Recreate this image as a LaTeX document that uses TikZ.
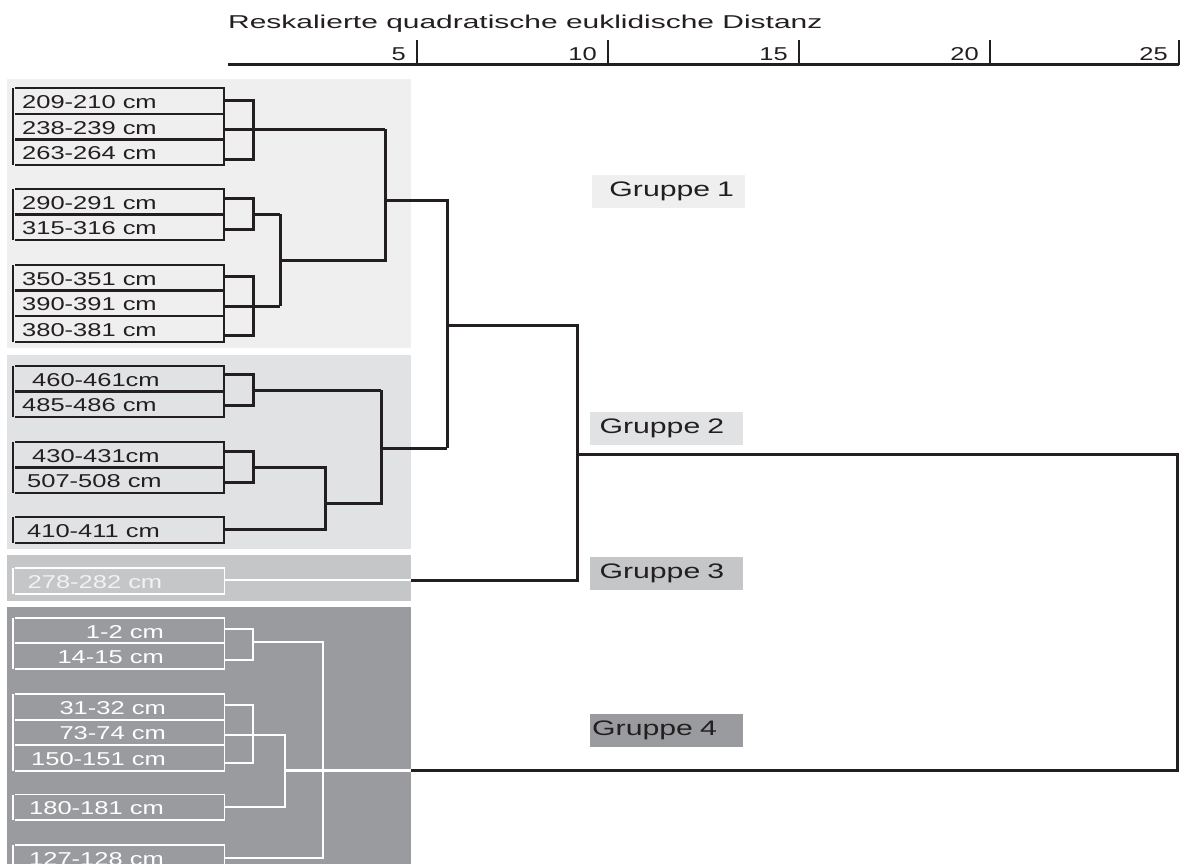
\documentclass[tikz,border=0pt]{standalone}
\usepackage{fontspec}
\setmainfont{Liberation Sans}
\newfontfamily\rowfont[FakeStretch=1.37]{Liberation Sans}
\newfontfamily\titlefont[FakeStretch=1.61]{Liberation Sans}
\newfontfamily\grpfont[FakeStretch=1.44]{Liberation Sans}
\definecolor{ink}{HTML}{231F20}
\definecolor{gA}{HTML}{EFEFEF}
\definecolor{gB}{HTML}{E1E2E4}
\definecolor{gC}{HTML}{C5C6C8}
\definecolor{gD}{HTML}{9A9B9E}
\definecolor{pale}{HTML}{F2F2F2}
\tikzset{
  rowbox/.style={rectangle, inner sep=0pt, minimum width=209pt, minimum height=25.4pt},
  dbox/.style={draw=ink, line width=2.1pt},
  wbox/.style={draw=white, line width=1.8pt},
  dbar/.style={draw=ink, line width=2.4pt},
  wbar/.style={draw=white, line width=2.1pt},
  link/.style={draw=ink, line width=3pt},
  wlink/.style={draw=white, line width=2.1pt},
  dtxt/.style={inner sep=0pt, text=ink, font=\rowfont\fontsize{18.6}{20}\selectfont},
  ptxt/.style={inner sep=0pt, text=pale, font=\rowfont\fontsize{18.6}{20}\selectfont},
  wtxt/.style={inner sep=0pt, text=white, font=\rowfont\fontsize{18.6}{20}\selectfont},
  grp/.style={rectangle, inner sep=0pt, text=ink, align=left, text width=#1, minimum height=32.7pt, font=\grpfont\fontsize{21}{24}\selectfont},
  tick/.style={draw=ink, line width=2.8pt},
  num/.style={inner sep=0pt, text=ink, anchor=base east, font=\rowfont\fontsize{18.6}{20}\selectfont}
}
% #1 name, #2 top y, #3 text x, #4 text, #5 box style, #6 text style
\newcommand\rowitem[6]{%
  \node[rowbox, anchor=north west] (#1) at (15,#2) {};
  \draw[#5] (#1.north west) -- (#1.north east) -- (#1.south east) -- (#1.south west);
  \node[#6] (#1t) at (#3,{#2+20.4}) {#4};
}
\begin{document}
\begin{tikzpicture}[x=1pt, y=-1pt]
\clip (0,0) rectangle (1184,863);
\fill[white] (0,0) rectangle (1184,863);

% ---------- axis ----------
\node[inner sep=0pt, anchor=base west, text=ink, font=\titlefont\fontsize{18.6}{20}\selectfont] (title) at (228,28.3) {Reskalierte quadratische euklidische Distanz};
\coordinate (ax0) at (228,64.5);
\coordinate (ax25) at (1179,64.5);
\draw[tick] (ax0) -- (ax25);
\foreach \v/\xx in {5/417, 10/608, 15/799, 20/990, 25/1179}{
  \coordinate (t\v) at (\xx,40);
  \draw[tick] (t\v) -- (t\v |- ax0);
  \node[num] (n\v) at (\xx-11,60) {\v};
}

% ---------- group backgrounds ----------
\fill[gA] (7,79) rectangle (411,348);
\fill[gB] (7,355) rectangle (411,549);
\fill[gC] (7,555) rectangle (411,601);
\fill[gD] (7,607) rectangle (411,870);

% ---------- group 1 ----------
\rowitem{r1}{88.3}{22}{209-210 cm}{dbox}{dtxt, anchor=base west}
\rowitem{r2}{113.7}{22}{238-239 cm}{dbox}{dtxt, anchor=base west}
\rowitem{r3}{139.1}{22}{263-264 cm}{dbox}{dtxt, anchor=base west}
\rowitem{r4}{189}{22}{290-291 cm}{dbox}{dtxt, anchor=base west}
\rowitem{r5}{214.4}{22}{315-316 cm}{dbox}{dtxt, anchor=base west}
\rowitem{r6}{265}{22}{350-351 cm}{dbox}{dtxt, anchor=base west}
\rowitem{r7}{290.4}{22}{390-391 cm}{dbox}{dtxt, anchor=base west}
\rowitem{r8}{315.8}{22}{380-381 cm}{dbox}{dtxt, anchor=base west}
\draw[dbar] ([xshift=-2.3pt]r1.north west) -- ([xshift=-2.3pt]r3.south west);
\draw[dbar] ([xshift=-2.3pt]r4.north west) -- ([xshift=-2.3pt]r5.south west);
\draw[dbar] ([xshift=-2.3pt]r6.north west) -- ([xshift=-2.3pt]r8.south west);

% ---------- group 2 ----------
\rowitem{r9}{365.7}{32}{460-461cm}{dbox}{dtxt, anchor=base west}
\rowitem{r10}{391.1}{22}{485-486 cm}{dbox}{dtxt, anchor=base west}
\rowitem{r11}{441.7}{32}{430-431cm}{dbox}{dtxt, anchor=base west}
\rowitem{r12}{467.1}{27}{507-508 cm}{dbox}{dtxt, anchor=base west}
\rowitem{r13}{516.9}{27}{410-411 cm}{dbox}{dtxt, anchor=base west}
\draw[dbar] ([xshift=-2.3pt]r9.north west) -- ([xshift=-2.3pt]r10.south west);
\draw[dbar] ([xshift=-2.3pt]r11.north west) -- ([xshift=-2.3pt]r12.south west);
\draw[dbar] ([xshift=-2.3pt]r13.north west) -- ([xshift=-2.3pt]r13.south west);

% ---------- group 3 ----------
\rowitem{r14}{567.8}{27.5}{278-282 cm}{wbox}{ptxt, anchor=base west}
\draw[wbar] ([xshift=-2.3pt]r14.north west) -- ([xshift=-2.3pt]r14.south west);

% ---------- group 4 ----------
\rowitem{r15}{617.7}{164}{1-2 cm}{wbox}{wtxt, anchor=base east}
\rowitem{r16}{643.1}{164}{14-15 cm}{wbox}{wtxt, anchor=base east}
\rowitem{r17}{694}{166}{31-32 cm}{wbox}{wtxt, anchor=base east}
\rowitem{r18}{719.4}{166}{73-74 cm}{wbox}{wtxt, anchor=base east}
\rowitem{r19}{744.8}{166}{150-151 cm}{wbox}{wtxt, anchor=base east}
\rowitem{r20}{794.5}{164}{180-181 cm}{wbox}{wtxt, anchor=base east}
\rowitem{r21}{845}{164}{127-128 cm}{wbox}{wtxt, anchor=base east}
\draw[wbar] ([xshift=-2.3pt]r15.north west) -- ([xshift=-2.3pt]r16.south west);
\draw[wbar] ([xshift=-2.3pt]r17.north west) -- ([xshift=-2.3pt]r19.south west);
\draw[wbar] ([xshift=-2.3pt]r20.north west) -- ([xshift=-2.3pt]r20.south west);
\draw[wbar] ([xshift=-2.3pt]r21.north west) -- ([xshift=-2.3pt]r21.south west);

% ---------- dendrogram: group 1 ----------
\coordinate (b1a) at (253,100);
\coordinate (b1b) at (253,129.3);
\coordinate (b1c) at (253,159.3);
\coordinate (j1) at (385,129.3);
\draw[link] (r1.east |- b1a) -- (b1a) -- (b1c) -- (r3.east |- b1c);
\draw[link] (r2.east |- b1b) -- (b1b) -- (j1);

\coordinate (b2a) at (253,198.3);
\coordinate (b2b) at (253,229.3);
\coordinate (b2o) at (253,214);
\coordinate (j2a) at (280,214);
\draw[link] (r4.east |- b2a) -- (b2a) -- (b2b) -- (r5.east |- b2b);
\draw[link] (b2o) -- (j2a);

\coordinate (b3a) at (253,276.7);
\coordinate (b3b) at (253,306);
\coordinate (b3c) at (253,335);
\coordinate (j2b) at (280,306);
\draw[link] (r6.east |- b3a) -- (b3a) -- (b3c) -- (r8.east |- b3c);
\draw[link] (r7.east |- b3b) -- (b3b) -- (j2b);

\coordinate (j2m) at (280,260);
\coordinate (j1m) at (385,260);
\coordinate (j1o) at (385,200.7);
\coordinate (k1) at (447,200.7);
\coordinate (k2) at (447,448);
\draw[link] (j2a) -- (j2b);
\draw[link] (j2m) -- (j1m) -- (j1);
\draw[link] (j1o) -- (k1) -- (k2);

% ---------- dendrogram: group 2 ----------
\coordinate (b4a) at (253,374);
\coordinate (b4b) at (253,405);
\coordinate (b4o) at (253,390);
\coordinate (j4a) at (381,390);
\draw[link] (r9.east |- b4a) -- (b4a) -- (b4b) -- (r10.east |- b4b);
\draw[link] (b4o) -- (j4a);

\coordinate (b5a) at (253,451.7);
\coordinate (b5b) at (253,482.7);
\coordinate (b5o) at (253,467.3);
\coordinate (j5a) at (325,467.3);
\coordinate (j5b) at (325,529.6);
\draw[link] (r11.east |- b5a) -- (b5a) -- (b5b) -- (r12.east |- b5b);
\draw[link] (b5o) -- (j5a) -- (j5b) -- (r13.east |- j5b);

\coordinate (j5m) at (325,503);
\coordinate (j4b) at (381,503);
\coordinate (j4m) at (381,448);
\draw[link] (j5m) -- (j4b) -- (j4a);
\draw[link] (j4m) -- (k2);

% ---------- top-level joins ----------
\coordinate (k3) at (447,325);
\coordinate (k4) at (577,325);
\coordinate (k5) at (577,580);
\coordinate (k6) at (577,454);
\coordinate (k7) at (1177,454);
\coordinate (k8) at (1177,770.5);
\coordinate (g3e) at (411,580);
\coordinate (g4e) at (411,770.5);
\draw[link] (k3) -- (k4) -- (k5) -- (g3e);
\draw[link] (k6) -- (k7) -- (k8) -- (g4e);
\draw[wlink] (r14.east |- g3e) -- (g3e);

% ---------- dendrogram: group 4 ----------
\coordinate (b8a) at (253,629);
\coordinate (b8b) at (253,660);
\coordinate (b8o) at (253,642.3);
\coordinate (j8) at (322.7,642.3);
\coordinate (j8b) at (322.7,857.7);
\draw[wlink] (r15.east |- b8a) -- (b8a) -- (b8b) -- (r16.east |- b8b);
\draw[wlink] (b8o) -- (j8) -- (j8b) -- (r21.east |- j8b);

\coordinate (b9a) at (253,705);
\coordinate (b9b) at (253,735);
\coordinate (b9c) at (253,763.3);
\coordinate (j9a) at (285,735);
\coordinate (j9b) at (285,807.2);
\coordinate (j9m) at (285,770.5);
\draw[wlink] (r17.east |- b9a) -- (b9a) -- (b9c) -- (r19.east |- b9c);
\draw[wlink] (r18.east |- b9b) -- (b9b) -- (j9a) -- (j9b) -- (r20.east |- j9b);
\draw[wlink] (j9m) -- (g4e);

% ---------- group labels ----------
\node[grp=153.3pt, fill=gA, anchor=north west] (G1) at (591.7,175) {\hspace*{17.5pt}Gruppe 1};
\node[grp=153pt, fill=gB, anchor=north west] (G2) at (589.3,411.7) {\hspace*{10pt}Gruppe 2};
\node[grp=153pt, fill=gC, anchor=north west] (G3) at (589.3,556.7) {\hspace*{10pt}Gruppe 3};
\node[grp=152.5pt, fill=gD, anchor=north west] (G4) at (590,714) {\hspace*{2pt}Gruppe 4};
\end{tikzpicture}
\end{document}
